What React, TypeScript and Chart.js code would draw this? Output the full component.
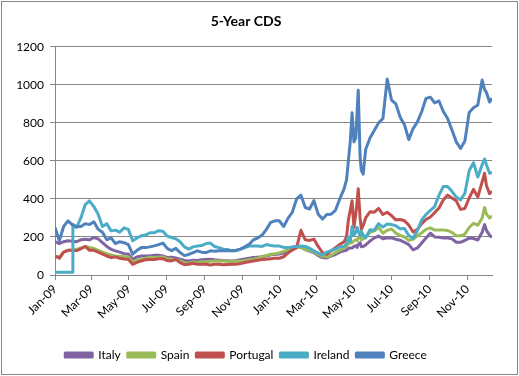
import React, { useEffect, useRef } from 'react';
import { Chart, registerables } from 'chart.js';

Chart.register(...registerables);

// Day offsets from 1 Jan 2009 (roughly weekly, denser around May 2010)
const days = [
  0, 7, 14, 21, 28, 29,
  35, 42, 49, 56, 63, 70, 77, 84, 91, 98,
  105, 112, 119, 126, 133, 140, 147, 154, 161, 168,
  175, 182, 189, 196, 203, 210, 217, 224, 231, 238,
  245, 252, 259, 266, 273, 280, 287, 294, 301, 308,
  315, 322, 329, 336, 343, 350, 357, 364, 371, 378,
  385, 392, 399, 406, 413, 420, 427, 434, 441, 448,
  455, 462, 469,
  473, 476, 479, 482, 485, 488, 490, 492, 495, 497, 500, 504,
  511, 518, 525, 532, 539, 546, 553, 560, 567, 574,
  581, 588, 595, 602, 609, 616, 623, 630, 637, 644,
  651, 658, 665, 672, 679, 686, 693,
  697, 700, 705, 709,
];

const tickDays = [0, 59, 120, 181, 243, 304, 365, 424, 485, 546, 608, 669];
const tickLabels = ['Jan-09', 'Mar-09', 'May-09', 'Jul-09', 'Sep-09', 'Nov-09', 'Jan-10', 'Mar-10', 'May-10', 'Jul-10', 'Sep-10', 'Nov-10'];

const greece = [
  250, 180, 255, 285, 265, 262,
  255, 255, 270, 265, 280, 240, 225, 185, 195, 165,
  175, 170, 160, 110, 130, 144, 144, 148, 153, 160,
  168, 140, 128, 140, 118, 102, 108, 118, 127, 120,
  118, 127, 125, 127, 127, 127, 127, 130, 136, 148,
  162, 185, 195, 210, 240, 277, 285, 285, 255, 298,
  330, 400, 420, 355, 347, 391, 320, 294, 318, 320,
  340, 400, 453,
  500, 600, 700, 853, 700, 720, 850, 972, 620, 550, 530, 660,
  720, 760, 800, 823, 1030, 920, 900, 830, 790, 712,
  770, 805, 860, 929, 935, 905, 915, 860, 823, 762,
  700, 665, 705, 855, 880, 894, 1025,
  975, 960, 910, 930,
];

const ireland = [
  15, 15, 15, 15, 15, 265,
  250, 300, 370, 390, 360, 320, 255, 270, 232, 236,
  225, 248, 240, 180, 195, 206, 210, 222, 222, 233,
  230, 205, 197, 190, 175, 148, 136, 148, 152, 155,
  165, 168, 150, 144, 136, 134, 127, 128, 136, 144,
  152, 153, 153, 150, 160, 155, 152, 152, 145, 144,
  148, 150, 152, 150, 140, 127, 115, 106, 120, 128,
  136, 148, 150,
  165, 200, 175, 255, 210, 225, 250, 230, 206, 230, 210, 195,
  238, 235, 270, 252, 268, 265, 259, 243, 245, 208,
  192, 235, 290, 318, 340, 360, 420, 465, 465, 440,
  410, 395, 430, 550, 590, 515, 580,
  610, 580, 535, 540,
];

const portugal = [
  100, 88, 120, 130, 130, 130,
  128, 138, 150, 130, 130, 120, 110, 100, 92, 95,
  88, 84, 83, 56, 66, 74, 80, 82, 82, 85,
  86, 76, 74, 82, 65, 54, 56, 62, 56, 57,
  57, 53, 56, 56, 54, 55, 56, 57, 60, 66,
  70, 74, 78, 82, 83, 86, 88, 88, 96, 115,
  132, 144, 235, 185, 182, 189, 150, 118, 108, 127,
  144, 160, 175,
  200, 290, 340, 391, 250, 320, 380, 453, 300, 240, 260, 300,
  332, 330, 350, 318, 330, 312, 290, 292, 285, 262,
  226, 240, 270, 292, 305, 328, 352, 395, 420, 405,
  390, 345, 350, 405, 450, 410, 490,
  535, 470, 428, 440,
];

const spain = [
  100, 95, 120, 130, 130, 132,
  135, 142, 150, 145, 140, 130, 120, 112, 105, 100,
  98, 96, 96, 68, 78, 83, 88, 92, 92, 94,
  95, 85, 83, 80, 74, 65, 62, 68, 66, 70,
  70, 72, 74, 74, 73, 72, 71, 72, 73, 76,
  80, 83, 88, 98, 102, 109, 112, 116, 124, 132,
  140, 144, 144, 134, 128, 122, 108, 98, 96, 104,
  118, 130, 142,
  150, 165, 168, 170, 180, 185, 180, 195, 205, 185, 190, 200,
  225, 232, 250, 220, 235, 242, 220, 208, 200, 182,
  188, 206, 222, 240, 248, 236, 236, 236, 234, 224,
  206, 206, 215, 250, 272, 262, 300,
  355, 320, 300, 310,
];

const italy = [
  175, 165, 175, 180, 178, 178,
  175, 185, 188, 185, 197, 190, 170, 150, 135, 127,
  120, 112, 110, 83, 95, 100, 100, 100, 104, 104,
  100, 92, 94, 90, 83, 76, 74, 78, 76, 80,
  82, 83, 80, 78, 76, 75, 74, 76, 80, 84,
  88, 92, 94, 96, 100, 106, 108, 110, 116, 122,
  132, 145, 148, 134, 126, 118, 102, 92, 90, 100,
  108, 120, 127,
  130, 140, 142, 142, 150, 155, 145, 160, 170, 148, 150, 158,
  178, 195, 205, 190, 196, 195, 188, 183, 172, 160,
  132, 142, 168, 195, 220, 200, 198, 194, 194, 190,
  172, 172, 182, 194, 192, 184, 225,
  265, 235, 210, 198,
];

const seriesNames = ['Italy', 'Spain', 'Portugal', 'Ireland', 'Greece'];
const seriesColors = ['#8064A2', '#9BBB59', '#C0504D', '#4BACC6', '#4F81BD'];
const seriesValues = [italy, spain, portugal, ireland, greece];

export default function App() {
  const ref = useRef<HTMLCanvasElement>(null);

  useEffect(() => {
    if (!ref.current) return;
    const font = { family: 'Lato', size: 12 };
    const gridColor = '#868686';

    const frame = {
      id: 'frame',
      beforeDraw(c: any) {
        const ctx = c.ctx;
        ctx.save();
        ctx.fillStyle = '#ffffff';
        ctx.fillRect(0, 0, c.width, c.height);
        ctx.strokeStyle = '#868686';
        ctx.lineWidth = 1;
        ctx.strokeRect(1.5, 1.5, c.width - 3, c.height - 3);
        ctx.restore();
      },
    };

    const datasets = seriesNames.map((name, k) => ({
      label: name,
      data: seriesValues[k].map((v, i) => ({ x: days[i], y: v })),
      borderColor: seriesColors[k],
      backgroundColor: seriesColors[k],
      borderWidth: 3,
      pointRadius: 0,
      tension: 0,
      borderJoinStyle: 'round' as const,
      order: seriesNames.length - k,
    }));

    const chart = new Chart(ref.current, {
      type: 'line',
      data: { datasets },
      plugins: [frame],
      options: {
        animation: false,
        responsive: false,
        parsing: false as any,
        layout: { padding: { left: 0, right: 27, top: 1, bottom: 5 } },
        plugins: {
          title: {
            display: true,
            text: '5-Year CDS',
            color: '#000000',
            font: { family: 'Lato', size: 14, weight: 'bold' },
            padding: { top: 12, bottom: 17 },
          },
          legend: {
            position: 'bottom',
            labels: {
              font,
              color: '#000000',
              boxWidth: 27,
              boxHeight: 4,
              padding: 7,
              sort: (a: any, b: any) => a.datasetIndex - b.datasetIndex,
            },
          },
          tooltip: { enabled: false },
        },
        scales: {
          x: {
            type: 'linear',
            min: 0,
            max: days[days.length - 1],
            afterBuildTicks: (scale: any) => {
              scale.ticks = tickDays.map((v) => ({ value: v }));
            },
            afterFit: (scale: any) => {
              scale.height = 67;
            },
            ticks: {
              autoSkip: false,
              maxRotation: 45,
              minRotation: 45,
              font,
              color: '#000000',
              padding: 2,
              callback: (v: any) => tickLabels[tickDays.indexOf(Number(v))] ?? '',
            },
            grid: { drawOnChartArea: false, drawTicks: true, tickLength: 5, color: gridColor },
            border: { color: gridColor },
          },
          y: {
            min: 0,
            max: 1200,
            afterFit: (scale: any) => {
              scale.width = 55;
            },
            ticks: {
              stepSize: 200,
              font,
              color: '#000000',
              padding: 6,
              callback: (v: any) => String(v),
            },
            grid: { color: gridColor, tickLength: 5 },
            border: { color: gridColor },
          },
        },
      },
    });
    return () => chart.destroy();
  }, []);

  return (
    <div style={{ position: 'absolute', left: 0, top: 0, width: 519, height: 376 }}>
      <canvas ref={ref} width={519} height={376} />
    </div>
  );
}
